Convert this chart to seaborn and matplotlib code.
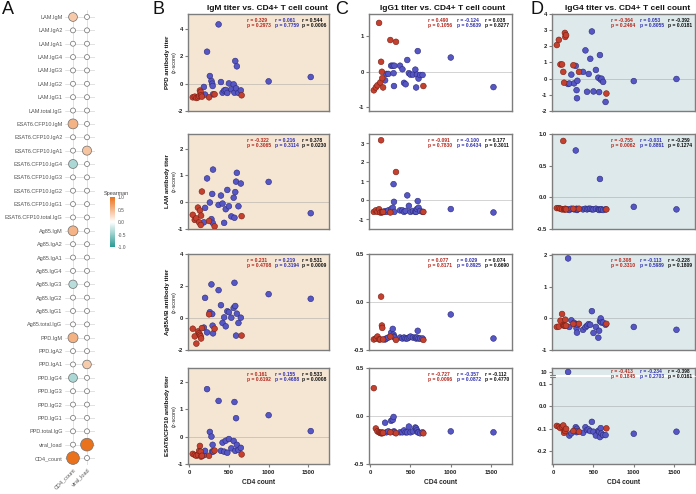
import numpy as np
import pandas as pd
import matplotlib
matplotlib.use("Agg")
import matplotlib.pyplot as plt
import seaborn as sns
from matplotlib.colors import LinearSegmentedColormap, Normalize
from matplotlib.cm import ScalarMappable
from matplotlib import transforms

sns.set_theme(style="white")
plt.rcParams["font.family"] = ["Liberation Sans", "DejaVu Sans"]

# ---------------- Panel A data ----------------
features = ["LAM.IgM", "LAM.IgA2", "LAM.IgA1", "LAM.IgG4", "LAM.IgG3", "LAM.IgG2", "LAM.IgG1", "LAM.total.IgG",
            "ESAT6.CFP10.IgM", "ESAT6.CFP10.IgA2", "ESAT6.CFP10.IgA1", "ESAT6.CFP10.IgG4", "ESAT6.CFP10.IgG3",
            "ESAT6.CFP10.IgG2", "ESAT6.CFP10.IgG1", "ESAT6.CFP10.total.IgG",
            "Ag85.IgM", "Ag85.IgA2", "Ag85.IgA1", "Ag85.IgG4", "Ag85.IgG3", "Ag85.IgG2", "Ag85.IgG1", "Ag85.total.IgG",
            "PPD.IgM", "PPD.IgA2", "PPD.IgA1", "PPD.IgG4", "PPD.IgG3", "PPD.IgG2", "PPD.IgG1", "PPD.total.IgG",
            "viral_load", "CD4_count"]
a_columns = ["CD4_count", "viral_load"]
# Spearman rho shown (0 = not significant, drawn as small white circle)
rho_cd4 = [0.378, 0, 0, 0, 0, 0, 0, 0,
           0.533, 0, 0, -0.398, 0, 0, 0, 0,
           0.531, 0, 0, 0, -0.33, 0, 0, 0,
           0.544, 0, 0, -0.392, 0, 0, 0, 0,
           0, 1.0]
rho_vl = [0, 0, 0, 0, 0, 0, 0, 0,
          0, 0, 0.42, 0, 0, 0, 0, 0,
          0, 0, 0, 0, 0, 0, 0, 0,
          0, 0, 0.36, 0, 0, 0, 0, 0,
          1.0, 0]

# ---------------- Scatter data ----------------
cd4_red = [45, 70, 90, 110, 125, 135, 145, 150, 160, 250, 320, 660]
cd4_blue = [185, 200, 225, 260, 280, 290, 295, 300, 370, 400, 420, 440, 460, 480, 500, 530,
            560, 570, 580, 590, 600, 620, 650, 1000, 1530]

# IgM (column B)
ppd_igm_red = [-1.0, -0.95, -1.05, -1.0, -0.9, -0.5, -0.6, -0.85, -0.95, -1.0, -0.78, -0.85]
ppd_igm_blue = [-0.24, -0.8, 2.34, 0.56, 0.2, 0.0, -0.17, -0.78, 4.34, 0.12, -0.66, -0.5, -0.46, -0.68,
                0.02, -0.41, -0.05, -0.66, 1.66, -0.34, 1.27, -0.68, -0.49, 0.17, 0.49]
lam_igm_red = [-0.47, -0.66, -0.6, -0.2, -0.75, -0.31, -0.85, -0.5, 0.4, -0.7, -0.9, -0.52]
lam_igm_blue = [-0.75, -0.21, 0.89, -0.01, -0.63, 0.31, -0.77, 1.22, -0.1, 0.25, -0.05, -0.77, -0.26,
                0.46, -0.15, -0.53, 0.17, -0.58, 0.38, 0.77, 1.1, -0.15, 0.7, 0.76, -0.41]
ag85_igm_red = [-0.67, -1.15, -1.6, -0.84, -0.96, -1.05, -1.15, -1.28, -0.63, 0.23, -0.67, -1.1]
ag85_igm_blue = [-0.6, 1.26, -0.9, 0.36, 2.1, 0.25, -0.48, -0.96, 1.74, 0.8, -0.31, 0.04, -0.52, 0.42,
                 0.36, 0.02, 0.63, 2.2, 0.75, -1.1, 0.27, -0.31, 0.02, 1.49, 1.2]
esat_igm_red = [-0.63, -0.67, -0.7, -0.67, -0.52, -0.34, -0.55, -0.73, -0.7, -0.7, -0.51, -0.65]
esat_igm_blue = [-0.68, -0.52, 1.73, 0.17, 0.0, -0.54, -0.3, -0.55, 1.3, -0.52, -0.22, -0.55, -0.15,
                 -0.59, -0.09, -0.43, -0.16, 1.26, -0.52, 0.67, -0.3, -0.49, -0.41, 0.78, 0.2]
# IgG1 (column C)
ppd_igg1_red = [-0.52, -0.44, -0.38, 1.37, -0.3, 0.28, 0.0, -0.18, -0.44, 0.89, 0.84, -0.4]
ppd_igg1_blue = [-0.24, -0.06, -0.06, 0.17, 0.17, -0.04, -0.4, 0.17, 0.17, 0.07, -0.31, -0.35, 0.33,
                 -0.04, -0.08, -0.08, 0.06, -0.44, -0.08, 0.58, -0.19, -0.09, -0.09, 0.4, -0.43]
lam_igg1_red = [-0.6, -0.52, -0.6, -0.46, -0.63, 3.17, -0.63, -0.6, -0.6, -0.63, 1.5, -0.6]
lam_igg1_blue = [-0.56, -0.6, -0.52, -0.45, -0.38, 0.86, -0.07, -0.6, -0.52, -0.52, -0.6, -0.55, 0.27,
                 -0.28, -0.6, -0.55, -0.6, -0.6, -0.45, -0.03, -0.38, -0.55, -0.6, -0.45, -0.63]
ag85_igg1_red = [-0.39, -0.38, -0.36, -0.39, -0.39, 0.056, -0.245, -0.27, -0.39, -0.36, -0.395, -0.395]
ag85_igg1_blue = [-0.39, -0.38, -0.37, -0.32, -0.28, -0.34, -0.36, -0.37, -0.37, -0.38, -0.37, -0.38,
                  -0.38, -0.37, -0.36, -0.37, -0.37, -0.38, -0.37, -0.30, -0.38, -0.38, -0.38, -0.13, -0.38]
esat_igg1_red = [0.29, -0.13, -0.16, -0.17, -0.175, -0.18, -0.17, -0.18, -0.175, -0.17, -0.18, -0.18]
esat_igg1_blue = [-0.07, -0.17, -0.16, -0.05, -0.04, -0.01, -0.16, -0.17, -0.17, -0.17, -0.15, -0.17,
                  -0.17, -0.11, -0.17, -0.16, -0.12, -0.13, -0.15, -0.17, -0.17, -0.18, -0.17, -0.16, -0.17]
# IgG4 (column D)
ppd_igg4_red = [2.08, 2.4, 0.88, 0.88, 0.42, -0.25, 2.83, 2.58, 2.69, 0.83, 0.42, -0.92]
ppd_igg4_blue = [-0.33, -0.3, 0.25, -0.29, 0.79, -0.71, -1.21, -0.13, 0.42, 1.75, -0.81, 0.29, 1.23,
                 2.92, -0.79, 0.54, 0.06, -0.83, 1.46, -0.06, 0.0, -0.2, -1.44, -0.15, -0.02]
lam_igg4_red = [-0.17, -0.17, -0.18, -0.19, 0.89, -0.19, -0.19, -0.18, -0.19, -0.18, -0.18, -0.19]
lam_igg4_blue = [-0.19, -0.2, -0.18, -0.19, 0.74, -0.18, -0.2, -0.19, -0.19, -0.18, -0.19, -0.18, -0.18,
                 -0.19, -0.19, -0.18, -0.19, -0.2, 0.29, -0.19, -0.19, -0.2, -0.19, -0.15, -0.19]
ag85_igg4_red = [-0.27, -0.26, -0.07, 0.14, -0.21, -0.23, -0.23, -0.04, -0.23, -0.17, -0.17, -0.17]
ag85_igg4_blue = [1.9, -0.27, -0.06, -0.14, -0.19, -0.31, -0.45, -0.2, -0.36, -0.28, -0.23, -0.18, -0.2,
                  0.23, -0.46, -0.27, -0.61, -0.39, -0.09, 0.0, -0.13, -0.13, -0.2, -0.27, -0.36]
esat_igg4_red = [-0.087, -0.091, -0.097, -0.091, -0.085, -0.118, -0.107, -0.11, -0.1, -0.11, -0.113, -0.098]
esat_igg4_blue = [10.0, -0.13, -0.12, -0.11, -0.093, -0.115, -0.1, -0.11, -0.118, -0.093, -0.106, -0.103,
                  -0.11, -0.069, -0.113, -0.13, -0.109, -0.113, -0.137, -0.097, -0.121, -0.128, -0.128,
                  -0.122, -0.113]

# Spearman stats shown in each panel: (r_red, r_blue, r_all), (p_red, p_blue, p_all)
stats_r = {
    "B": [(0.329, 0.061, 0.544), (-0.322, 0.216, 0.378), (0.231, 0.219, 0.531), (0.161, 0.155, 0.533)],
    "C": [(0.490, -0.124, 0.038), (-0.091, -0.100, 0.177), (0.077, 0.029, 0.074), (-0.727, -0.357, -0.112)],
    "D": [(-0.364, 0.053, -0.392), (-0.755, -0.031, -0.259), (0.308, -0.113, -0.228), (-0.413, -0.234, -0.398)],
}
stats_p = {
    "B": [(0.2973, 0.7759, 0.0006), (0.3065, 0.3114, 0.0230), (0.4708, 0.3194, 0.0009), (0.6192, 0.4688, 0.0008)],
    "C": [(0.1056, 0.5639, 0.8277), (0.7830, 0.6434, 0.3011), (0.8171, 0.8925, 0.6690), (0.0096, 0.0872, 0.4770)],
    "D": [(0.2464, 0.8055, 0.0181), (0.0062, 0.8861, 0.1274), (0.3310, 0.5989, 0.1809), (0.1845, 0.2703, 0.0161)],
}
column_titles = ["IgM titer vs. CD4+ T cell count", "IgG1 titer vs. CD4+ T cell count",
                 "IgG4 titer vs. CD4+ T cell count"]
row_labels = ["PPD antibody titer", "LAM antibody titer", "Ag85A/B antibody titer", "ESAT6/CFP10 antibody titer"]
x_ticks = [0, 500, 1000, 1500]

# ---------------- style ----------------
W, H = 696, 494
RED, BLUE = "#c4402f", "#5656c4"
RED_E, BLUE_E = "#7a1d12", "#2a2a7a"
RED_T, BLUE_T = "#b5281e", "#3232b0"
SPINE = "#7d7d7d"
BG = {"B": "#f5e6d4", "C": "#ffffff", "D": "#dde9ea"}


def rect(l, t, r, b):
    return [l / W, 1 - b / H, (r - l) / W, (b - t) / H]


fig = plt.figure(figsize=(6.96, 4.94), dpi=100)

# ---------------- Panel A ----------------
cmap = LinearSegmentedColormap.from_list("sp", ["#2a9a94", "#ffffff", "#ea721c"])
dfA = pd.DataFrame({
    "xi": [0] * len(features) + [1] * len(features),
    "yi": list(range(len(features))) * 2,
    "rho": rho_cd4 + rho_vl,
})
dfA["mag"] = dfA["rho"].abs()
axA = fig.add_axes(rect(64.6, 10.3, 95.4, 464.7))
axA.set_axisbelow(True)
axA.grid(True, color="#d6d6d6", lw=0.5)
sns.scatterplot(data=dfA, x="xi", y="yi", hue="rho", size="mag", palette=cmap, hue_norm=(-1, 1),
                sizes=(13, 84), size_norm=(0, 1), edgecolor="#6e6e6e", linewidth=0.5,
                legend=False, ax=axA, zorder=3)
axA.set_xlim(-0.6, 1.6)
axA.set_ylim(len(features) - 0.5, -0.5)
axA.set_xticks([0, 1])
axA.set_xticklabels(a_columns, rotation=45, ha="right", rotation_mode="anchor", fontsize=4, color="#555555")
axA.set_yticks(range(len(features)))
axA.set_yticklabels(features, fontsize=4, color="#555555")
axA.tick_params(length=0, pad=1.5)
axA.set_xlabel("")
axA.set_ylabel("")
for s in axA.spines.values():
    s.set_visible(False)

cax = fig.add_axes(rect(110, 197, 115.3, 247))
cb = fig.colorbar(ScalarMappable(norm=Normalize(-1, 1), cmap=cmap), cax=cax)
cb.set_ticks([1.0, 0.5, 0.0, -0.5, -1.0])
cb.set_ticklabels(["1.0", "0.5", "0.0", "-0.5", "-1.0"])
cb.ax.tick_params(labelsize=3.5, length=0, pad=2, labelcolor="#555555")
cb.outline.set_visible(False)
fig.text(116 / W, 1 - 193 / H, "Spearman", fontsize=4, color="#444444", ha="center", va="center")

# ---------------- scatter panels ----------------
col_x = {"B": (188, 329), "C": (369, 512), "D": (552, 695)}
row_y = [(14, 111), (134, 229), (254, 350), (368, 464)]
title_cx = {"B": 267, "C": 443, "D": 628}
letters = {"A": 2, "B": 152, "C": 335, "D": 531}

panel_data = {
    "B": [(ppd_igm_red, ppd_igm_blue), (lam_igm_red, lam_igm_blue), (ag85_igm_red, ag85_igm_blue),
          (esat_igm_red, esat_igm_blue)],
    "C": [(ppd_igg1_red, ppd_igg1_blue), (lam_igg1_red, lam_igg1_blue), (ag85_igg1_red, ag85_igg1_blue),
          (esat_igg1_red, esat_igg1_blue)],
    "D": [(ppd_igg4_red, ppd_igg4_blue), (lam_igg4_red, lam_igg4_blue), (ag85_igg4_red, ag85_igg4_blue),
          (esat_igg4_red, esat_igg4_blue)],
}
ylims = {
    "B": [(-2, 5.1), (-1, 2.55), (-2, 4), (-1, 2.5)],
    "C": [(-1.1, 1.62), (-1.5, 3.5), (-0.5, 0.5), (-0.5, 0.5)],
    "D": [(-2, 4), (-0.5, 1.0), (-1, 2.04), (-0.257, 0.131)],
}
yticks = {
    "B": [[-2, 0, 2, 4], [-1, 0, 1, 2], [-2, 0, 2, 4], [-1, 0, 1, 2]],
    "C": [[-1, 0, 1], [-1, 0, 1, 2, 3], [-0.5, 0.0, 0.5], [-0.5, 0.0, 0.5]],
    "D": [[-2, -1, 0, 1, 2, 3, 4], [-0.5, 0.0, 0.5, 1.0], [-1, 0, 1, 2], [-0.2, -0.1, 0.0, 0.1]],
}
yfmt = {
    "B": ["{:.0f}"] * 4,
    "C": ["{:.0f}", "{:.0f}", "{:.1f}", "{:.1f}"],
    "D": ["{:.0f}", "{:.1f}", "{:.0f}", "{:.1f}"],
}


def style_axes(ax, bg, bottom_row, spines=("left", "right", "top", "bottom")):
    ax.set_facecolor(bg)
    for name, s in ax.spines.items():
        s.set_color(SPINE)
        s.set_linewidth(1.0)
        s.set_visible(name in spines)
    ax.tick_params(axis="y", length=2.5, width=0.8, color=SPINE, labelsize=4.2, pad=1.2,
                   left=True, labelcolor="#222222")
    if bottom_row:
        ax.tick_params(axis="x", length=2.5, width=0.8, color=SPINE, labelsize=4.2, pad=1.5,
                       bottom=True, labelbottom=True, labelcolor="#222222")
    else:
        ax.tick_params(axis="x", length=0, labelbottom=False)


def draw_points(ax, yr, yb):
    df = pd.DataFrame({
        "CD4": cd4_blue + cd4_red,
        "titer": yb + yr,
        "group": ["blue"] * len(yb) + ["red"] * len(yr),
    })
    edges = [BLUE_E] * len(yb) + [RED_E] * len(yr)
    ax.axhline(0, color="#9a9a9a", lw=0.6, ls=(0, (1.2, 1.2)), zorder=1)
    sns.scatterplot(data=df, x="CD4", y="titer", hue="group", palette={"red": RED, "blue": BLUE},
                    s=17, edgecolor=edges, linewidth=0.4, legend=False, ax=ax, zorder=3)
    ax.set_xlim(-15, 1760)
    ax.set_xlabel("")
    ax.set_ylabel("")


def draw_stats(ax, rs, ps, top_px):
    tr = transforms.blended_transform_factory(ax.transAxes, fig.transFigure)
    for xf, col, rv, pv in zip([0.415, 0.618, 0.81], [RED_T, BLUE_T, "#111111"], rs, ps):
        ax.text(xf, 1 - top_px / H, f"r = {rv:.3f}\np = {pv:.4f}", transform=tr, ha="left", va="top",
                fontsize=3.6, fontweight="bold", color=col, linespacing=1.05, clip_on=False, zorder=5)


for col in ["B", "C", "D"]:
    l, r = col_x[col]
    for i in range(4):
        t, b = row_y[i]
        yr, yb = panel_data[col][i]
        bottom_row = i == 3
        if col == "D" and i == 3:
            # broken y axis
            ax_top = fig.add_axes(rect(l, t, r, t + 7))
            ax = fig.add_axes(rect(l, t + 9, r, b))
            for a in (ax_top, ax):
                draw_points(a, yr, yb)
            ax_top.set_ylim(9.4, 10.8)
            ax_top.set_yticks([10])
            ax_top.set_yticklabels(["10"], fontweight="bold")
            style_axes(ax_top, BG[col], False, spines=("left", "right", "top"))
            ax_top.axhline(0, lw=0)
            ax.set_ylim(*ylims[col][i])
            ax.set_yticks(yticks[col][i])
            ax.set_yticklabels([yfmt[col][i].format(v) for v in yticks[col][i]], fontweight="bold")
            style_axes(ax, BG[col], True, spines=("left", "right", "bottom"))
            # break marks on left spine
            for yy in (t + 7, t + 9):
                fig.add_artist(plt.Line2D([(l - 2.5) / W, (l + 2.5) / W], [1 - yy / H, 1 - yy / H],
                                          color=SPINE, lw=0.8))
            stats_top = t + 1
        else:
            ax = fig.add_axes(rect(l, t, r, b))
            draw_points(ax, yr, yb)
            ax.set_ylim(*ylims[col][i])
            ax.set_yticks(yticks[col][i])
            ax.set_yticklabels([yfmt[col][i].format(v) for v in yticks[col][i]], fontweight="bold")
            style_axes(ax, BG[col], bottom_row)
            stats_top = t + 4
        draw_stats(ax, stats_r[col][i], stats_p[col][i], stats_top)
        if bottom_row:
            ax.set_xticks(x_ticks)
            ax.set_xticklabels([str(v) for v in x_ticks], fontweight="bold")
            ax.set_xlabel("CD4 count", fontsize=4.8, fontweight="bold", labelpad=3)
        else:
            ax.set_xticks(x_ticks)
        if col == "B":
            tr = transforms.blended_transform_factory(fig.transFigure, ax.transAxes)
            ax.text(167 / W, 0.5, row_labels[i], transform=tr, rotation=90, ha="center", va="center",
                    fontsize=4.4, fontweight="bold", color="#111111")
            ax.text(174.5 / W, 0.5, "(z-score)", transform=tr, rotation=90, ha="center", va="center",
                    fontsize=4.0, color="#222222")
    fig.text(title_cx[col] / W, 1 - 9 / H, column_titles["BCD".index(col)], ha="center", va="center",
             fontsize=6, fontweight="bold", color="#111111")

for letter, xp in letters.items():
    fig.text(xp / W, 1 - 1.5 / H, letter, fontsize=13, ha="left", va="top", color="#111111")

fig.savefig("out.png", dpi=100, facecolor="white")
